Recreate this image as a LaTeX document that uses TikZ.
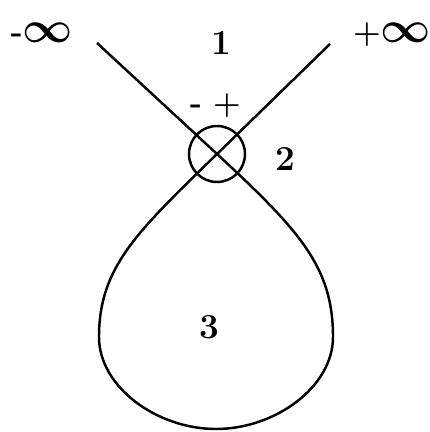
\documentclass[tikz,border=0pt]{standalone}
\usepackage{amsmath,amssymb}
\usepackage{bm}

\begin{document}
\begin{tikzpicture}[x=0.02cm,y=0.02cm,line width=1.4pt]
  \tikzset{lbl/.style={font=\fontsize{20}{22}\selectfont\bfseries},
           sgn/.style={font=\fontsize{18}{20}\selectfont\bfseries,anchor=base},
           inf/.style={font=\fontsize{28}{30}\selectfont}}
  \useasboundingbox (0,0) rectangle (429,432);
  % ends of the two branches and the crossing
  \coordinate (mi) at (97,389);
  \coordinate (pl) at (330,388);
  \coordinate (x) at (217,278);
  \coordinate (r) at (333,95);
  \coordinate (bt) at (216,3);
  \coordinate (l) at (99,95);
  \node[draw,circle,minimum size=1.12cm,inner sep=0] (cr) at (x) {};
  \draw (mi) -- (x) .. controls (300,201) and (333,165) .. (r)
    .. controls (333,45) and (275,3) .. (bt)
    .. controls (157,3) and (99,45) .. (l)
    .. controls (99,165) and (137,200) .. (x) -- (pl);
  % labels
  \node[inf] (minf) at (42,399) {{\fontsize{18}{20}\selectfont\bfseries -}$\bm{\infty}$};
  \node[inf] (pinf) at (392,397) {{\fontsize{18}{20}\selectfont\bfseries +}$\bm{\infty}$};
  \node[lbl] (one) at (221,389) {1};
  \node[lbl] (two) at (285,273) {2};
  \node[lbl] (three) at (209,105) {3};
  \node[sgn] (mns) at (196,318) {-};
  \node[sgn] (pls) at (227,318) {+};
\end{tikzpicture}
\end{document}
